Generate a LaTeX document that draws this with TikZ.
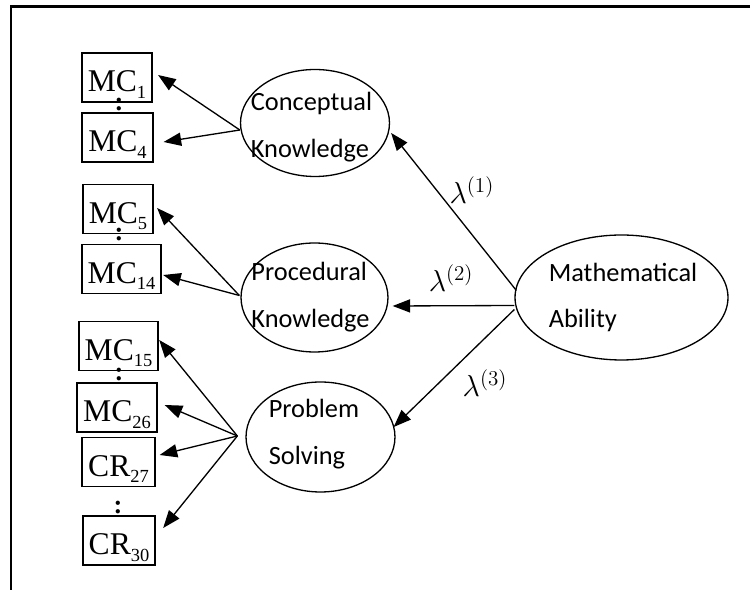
\documentclass[tikz,border=0pt]{standalone}
\usepackage{fontspec}
\setmainfont{Liberation Serif}
\newfontfamily\calibri{Carlito}
\usetikzlibrary{shapes.geometric, arrows.meta, positioning, calc}
\newcommand{\isub}[1]{\raisebox{-3.5pt}{\fontsize{10.5}{10}\selectfont #1}}

\begin{document}
\begin{tikzpicture}[
    x=0.02cm, y=-0.02cm,
    factor/.style={ellipse, draw=black, line width=0.75pt, inner sep=0pt},
    factortext/.style={font=\calibri\fontsize{15}{26.7}\selectfont, align=left, inner sep=0pt},
    item/.style={rectangle, draw=black, line width=1pt, inner xsep=3.4pt, inner ysep=0pt, minimum height=27.9pt, text height=16.5pt, text depth=0pt, font=\fontsize{18}{20}\selectfont},
    gap/.style={font=\fontsize{15}{15}\selectfont\bfseries, inner sep=0pt},
    arrow/.style={-{Triangle[length=10pt, width=7.5pt]}, line width=0.75pt},
    loading/.style={font=\fontsize{18}{18}\selectfont, inner sep=0pt}
]
\useasboundingbox (0,0) rectangle (750,590);

% Frame
\draw[line width=1.2pt] (11,590) -- (11,6.5) -- (750,6.5);

% Factors
\node[factor, minimum width=2.98cm, minimum height=2.14cm] (concept) at (315,123) {};
\node[factortext] (conceptlbl) at (311.5,127) {Conceptual\\Knowledge};
\node[factor, minimum width=2.94cm, minimum height=2.18cm] (proc) at (314.5,297.5) {};
\node[factortext] (proclbl) at (310.5,297.5) {Procedural\\Knowledge};
\node[factor, minimum width=2.98cm, minimum height=2.2cm] (solve) at (320.5,437) {};
\node[factortext] (solvelbl) at (314,434.5) {Problem\\Solving};
\node[factor, minimum width=4.26cm, minimum height=2.5cm] (math) at (621.5,297.5) {};
\node[factortext] (mathlbl) at (623,297.5) {Mathematical\\Ability};

% Items
\node[item] (mc1) at (117,77.5) {MC\isub{1}};
\node[item] (mc4) at (117.5,137.5) {MC\isub{4}};
\node[item] (mc5) at (118,209) {MC\isub{5}};
\node[item] (mc14) at (121.5,269) {MC\isub{14}};
\node[item] (mc15) at (118.5,346) {MC\isub{15}};
\node[item] (mc26) at (117,407.5) {MC\isub{26}};
\node[item] (cr27) at (118.5,462) {CR\isub{27}};
\node[item] (cr30) at (119,540.5) {CR\isub{30}};

\node[gap] (dots1) at (119,105) {:};
\node[gap] (dots2) at (119,235) {:};
\node[gap] (dots3) at (119,374.5) {:};
\node[gap] (dots4) at (118,508) {:};

% Connections
\coordinate (cOut) at ($(concept.west)+(0,7)$);
\coordinate (pOut) at ($(proc.west)+(-1,-2)$);
\coordinate (sOut) at ($(solve.west)+(-8,-1)$);

\draw[arrow] (cOut) -- ($(mc1.east)+(5,-2.5)$);
\draw[arrow] (cOut) -- ($(mc4.east)+(10,4.5)$);
\draw[arrow] (pOut) -- ($(mc5.east)+(3,-1)$);
\draw[arrow] (pOut) -- ($(mc14.east)+(1,6)$);
\draw[arrow] (sOut) -- ($(mc15.east)+(0,-6)$);
\draw[arrow] (sOut) -- ($(mc26.east)+(7,-2.5)$);
\draw[arrow] (sOut) -- ($(cr27.east)+(4,-7)$);
\draw[arrow] (sOut) -- ($(cr30.east)+(7,-12.5)$);

\draw[arrow] ($(math.west)+(2,-7)$) -- node[loading, pos=0.638, anchor=west, xshift=0.25cm] (lam1) {$\lambda^{(1)}$} ($(concept.east)+(1,10)$);
\draw[arrow] ($(math.west)+(0,8)$) -- node[loading, pos=0.52, anchor=south, yshift=0.28cm] (lam2) {$\lambda^{(2)}$} ($(proc.east)+(4,8.5)$);
\draw[arrow] ($(math.west)+(0,12)$) -- node[loading, pos=0.624, anchor=west, xshift=0.46cm] (lam3) {$\lambda^{(3)}$} ($(solve.east)+(-2,-10)$);

\end{tikzpicture}
\end{document}
